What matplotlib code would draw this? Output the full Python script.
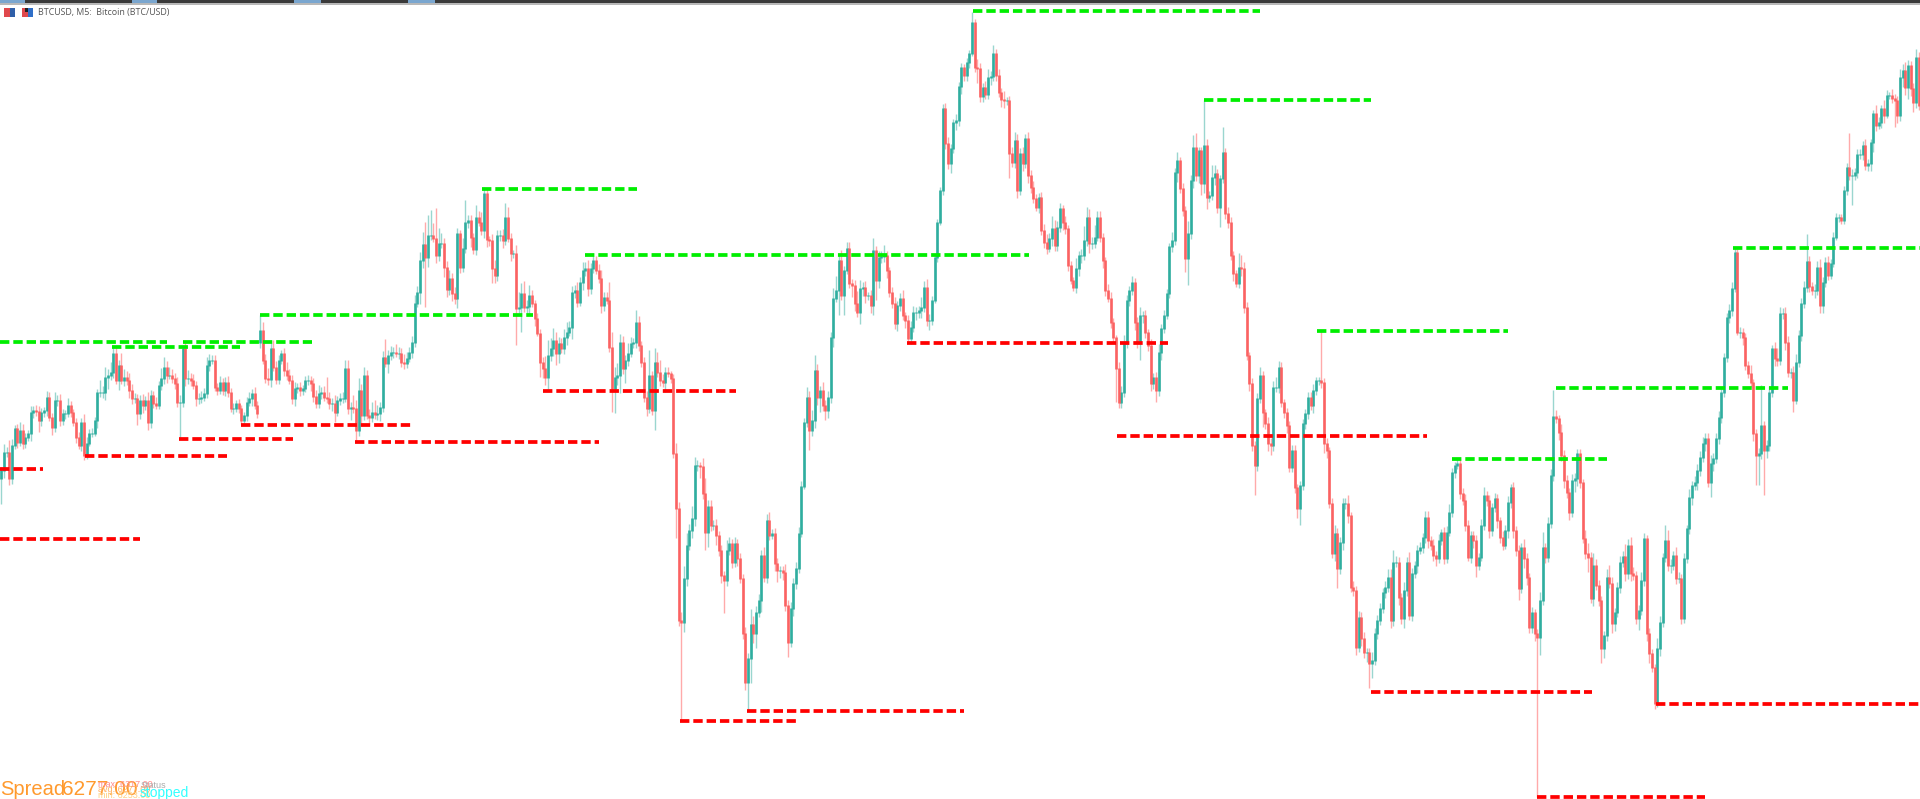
import numpy as np
import matplotlib
matplotlib.use('Agg')
import matplotlib.pyplot as plt
from matplotlib.patches import Rectangle

# No price axis in the picture: values are read as chart heights, top = 0
first_open = 478
gap_opens = {97: 342}

closes = [
    470, 452, 452, 478, 445, 428, 442, 430, 443, 437, 433, 412, 410, 411, 420, 412, 410, 397, 417, 427,
    400, 400, 420, 413, 413, 405, 412, 422, 437, 445, 422, 455, 443, 433, 433, 420, 392, 392, 392, 377,
    375, 372, 353, 380, 365, 380, 377, 380, 390, 398, 398, 413, 400, 405, 400, 422, 395, 403, 405, 385,
    378, 367, 375, 375, 378, 383, 402, 402, 348, 378, 378, 380, 385, 398, 398, 397, 393, 365, 360, 360,
    387, 390, 382, 390, 382, 392, 408, 408, 403, 408, 420, 415, 402, 398, 393, 405, 413, 330, 360, 378,
    379, 348, 367, 379, 360, 353, 370, 375, 380, 398, 388, 387, 390, 388, 380, 380, 383, 396, 403, 393,
    392, 397, 398, 403, 403, 412, 400, 398, 398, 368, 408, 407, 408, 430, 390, 415, 375, 415, 417, 412,
    414, 413, 407, 357, 363, 355, 352, 352, 353, 353, 362, 363, 358, 352, 342, 303, 292, 260, 244, 257,
    235, 235, 238, 255, 243, 243, 267, 289, 278, 293, 298, 233, 267, 248, 222, 220, 237, 249, 217, 222,
    230, 193, 239, 240, 268, 275, 235, 235, 240, 217, 238, 253, 253, 308, 307, 293, 307, 306, 295, 303,
    318, 333, 362, 368, 377, 355, 348, 340, 353, 343, 348, 337, 332, 327, 292, 290, 302, 282, 270, 268,
    288, 268, 260, 270, 278, 305, 297, 300, 347, 388, 377, 375, 342, 368, 360, 353, 343, 342, 322, 345,
    362, 397, 408, 375, 410, 362, 372, 380, 382, 372, 373, 378, 453, 508, 620, 622, 578, 545, 530, 518,
    465, 465, 466, 493, 532, 506, 525, 525, 535, 550, 575, 580, 550, 543, 562, 543, 558, 578, 633, 682,
    658, 624, 633, 612, 600, 555, 577, 520, 535, 533, 563, 570, 570, 572, 605, 642, 608, 583, 568, 533,
    486, 422, 397, 430, 420, 370, 397, 390, 405, 410, 397, 337, 298, 290, 260, 295, 270, 248, 283, 285,
    303, 312, 288, 287, 295, 295, 305, 250, 280, 257, 256, 255, 270, 292, 303, 323, 305, 298, 315, 320,
    338, 327, 312, 312, 310, 307, 287, 320, 320, 300, 257, 222, 190, 108, 143, 163, 148, 122, 120, 86,
    67, 75, 62, 53, 22, 67, 68, 96, 87, 94, 77, 76, 53, 75, 92, 99, 100, 100, 153, 162,
    140, 190, 153, 163, 138, 175, 187, 198, 207, 197, 230, 242, 248, 238, 228, 245, 227, 208, 222, 228,
    265, 280, 287, 268, 255, 255, 240, 217, 243, 243, 237, 217, 237, 260, 290, 298, 322, 337, 368, 402,
    392, 343, 300, 290, 282, 322, 342, 315, 315, 332, 345, 383, 377, 390, 352, 328, 315, 293, 246, 240,
    172, 160, 188, 210, 258, 233, 180, 147, 175, 150, 183, 145, 197, 195, 177, 173, 207, 178, 152, 213,
    222, 255, 273, 283, 267, 268, 307, 355, 383, 445, 465, 398, 375, 412, 423, 443, 445, 387, 387, 367,
    402, 412, 425, 467, 450, 487, 508, 485, 423, 413, 397, 405, 390, 380, 380, 382, 443, 450, 503, 553,
    533, 568, 542, 503, 503, 515, 587, 590, 647, 617, 638, 652, 652, 663, 660, 633, 620, 608, 592, 587,
    577, 620, 562, 562, 597, 618, 590, 562, 615, 573, 565, 550, 547, 537, 517, 540, 545, 555, 558, 540,
    532, 558, 532, 512, 472, 465, 463, 493, 500, 525, 557, 535, 540, 565, 557, 525, 495, 500, 530, 507,
    498, 520, 537, 545, 530, 502, 487, 530, 550, 588, 547, 558, 577, 627, 612, 633, 637, 600, 547, 557,
    523, 475, 416, 418, 432, 455, 480, 492, 512, 480, 478, 453, 482, 538, 553, 557, 598, 565, 585, 600,
    648, 635, 577, 583, 623, 612, 587, 562, 556, 573, 545, 573, 575, 618, 610, 580, 538, 633, 653, 667,
    703, 648, 622, 557, 540, 565, 565, 555, 578, 578, 618, 558, 528, 497, 485, 482, 470, 457, 443, 438,
    482, 463, 458, 438, 417, 392, 357, 317, 310, 288, 252, 332, 332, 337, 365, 373, 382, 433, 455, 453,
    425, 450, 445, 392, 348, 358, 360, 313, 313, 342, 372, 372, 400, 362, 335, 303, 287, 261, 286, 290,
    290, 267, 305, 282, 262, 275, 263, 237, 217, 217, 220, 190, 167, 175, 175, 172, 154, 154, 145, 165,
    163, 142, 113, 125, 122, 108, 115, 95, 95, 98, 100, 115, 77, 70, 87, 65, 88, 102, 57, 105,
]

wick_up = [
    3, 8, 5, 12, 6, 3, 4, 8, 6, 4, 3, 6, 4, 5, 5, 4, 3, 6, 5, 4,
    8, 5, 6, 4, 3, 7, 4, 3, 4, 5, 4, 8, 6, 4, 5, 3, 3, 12, 6, 10,
    6, 10, 8, 6, 5, 12, 8, 6, 7, 6, 5, 4, 5, 6, 4, 8, 5, 4, 6, 4,
    10, 10, 6, 8, 6, 5, 6, 7, 3, 6, 8, 5, 6, 4, 5, 6, 5, 8, 6, 5,
    5, 4, 6, 4, 5, 6, 4, 5, 3, 4, 3, 3, 5, 6, 4, 6, 4, 15, 8, 6,
    10, 5, 8, 6, 5, 3, 5, 8, 6, 5, 6, 4, 5, 3, 4, 5, 4, 5, 6, 8,
    5, 6, 20, 6, 5, 8, 4, 5, 6, 8, 8, 5, 12, 8, 12, 6, 8, 5, 6, 10,
    12, 8, 5, 6, 18, 5, 6, 5, 8, 6, 5, 8, 6, 5, 6, 8, 6, 8, 12, 22,
    20, 25, 12, 30, 15, 10, 5, 6, 8, 5, 6, 5, 3, 10, 22, 5, 5, 4, 12, 6,
    10, 6, 4, 3, 6, 8, 5, 5, 6, 14, 10, 5, 3, 8, 15, 10, 12, 6, 10, 5,
    3, 5, 4, 5, 12, 15, 10, 12, 8, 6, 5, 8, 10, 6, 6, 5, 8, 5, 8, 6,
    8, 5, 4, 4, 6, 8, 5, 5, 18, 15, 10, 12, 8, 6, 5, 10, 6, 4, 12, 6,
    4, 5, 6, 25, 4, 14, 10, 12, 6, 5, 5, 2, 4, 10, 6, 8, 12, 12, 6, 12,
    8, 5, 3, 8, 15, 6, 6, 5, 6, 4, 5, 4, 10, 6, 4, 6, 4, 5, 4, 6,
    5, 15, 8, 6, 6, 5, 8, 6, 8, 4, 5, 5, 4, 4, 8, 5, 6, 5, 6, 6,
    5, 4, 10, 6, 10, 15, 6, 4, 8, 5, 6, 5, 10, 14, 6, 10, 4, 6, 6, 4,
    5, 12, 8, 5, 6, 3, 5, 12, 4, 6, 5, 10, 4, 3, 5, 6, 4, 5, 8, 3,
    5, 6, 6, 5, 4, 10, 6, 8, 6, 4, 3, 3, 3, 4, 5, 6, 4, 3, 6, 4,
    4, 3, 4, 3, 10, 3, 8, 5, 4, 6, 8, 5, 8, 4, 6, 4, 8, 3, 4, 6,
    8, 6, 5, 6, 4, 6, 5, 6, 4, 4, 5, 6, 8, 5, 12, 8, 6, 5, 3, 6,
    3, 4, 3, 10, 4, 6, 14, 10, 8, 6, 12, 6, 6, 4, 3, 6, 6, 4, 2, 6,
    6, 8, 5, 4, 6, 4, 5, 8, 4, 5, 3, 6, 4, 5, 8, 4, 5, 4, 3, 8,
    4, 8, 3, 5, 4, 12, 5, 12, 14, 3, 3, 45, 6, 4, 12, 8, 4, 3, 25, 4,
    6, 5, 4, 3, 14, 12, 6, 5, 3, 5, 4, 5, 8, 4, 3, 6, 5, 6, 10, 6,
    5, 3, 4, 4, 5, 5, 3, 4, 4, 4, 5, 5, 6, 3, 3, 49, 4, 5, 3, 5,
    8, 5, 5, 5, 5, 8, 3, 6, 4, 6, 5, 6, 4, 4, 8, 5, 5, 5, 4, 6,
    8, 8, 12, 6, 5, 4, 8, 5, 10, 5, 4, 5, 5, 4, 6, 6, 4, 6, 4, 6,
    3, 5, 6, 8, 4, 3, 4, 4, 5, 6, 5, 4, 4, 5, 4, 6, 8, 4, 5, 4,
    5, 4, 3, 6, 5, 6, 3, 5, 4, 5, 4, 8, 5, 4, 5, 3, 4, 8, 15, 4,
    6, 6, 26, 6, 3, 8, 5, 5, 4, 6, 5, 4, 4, 3, 8, 10, 5, 12, 6, 5,
    4, 4, 8, 12, 6, 4, 5, 6, 5, 12, 6, 8, 6, 4, 5, 8, 5, 3, 5, 4,
    3, 10, 6, 4, 15, 10, 6, 4, 8, 6, 4, 5, 3, 8, 4, 6, 6, 6, 6, 5,
    5, 8, 5, 5, 6, 5, 4, 4, 6, 6, 4, 3, 5, 4, 4, 4, 8, 3, 4, 5,
    40, 4, 5, 6, 3, 6, 10, 6, 5, 6, 6, 4, 6, 8, 5, 5, 6, 27, 5, 4,
    6, 6, 8, 5, 5, 6, 4, 5, 4, 3, 3, 4, 4, 34, 6, 4, 5, 5, 4, 6,
    4, 3, 3, 8, 5, 3, 8, 5, 3, 6, 4, 4, 8, 6, 8, 5, 4, 5, 8, 5,
]

wick_down = [
    26, 8, 5, 7, 6, 4, 6, 4, 6, 5, 4, 8, 6, 5, 12, 6, 5, 6, 4, 8,
    5, 6, 6, 5, 6, 4, 5, 4, 6, 4, 6, 5, 4, 3, 4, 3, 8, 5, 6, 8,
    12, 5, 6, 4, 10, 4, 6, 5, 8, 6, 5, 12, 6, 8, 5, 8, 6, 5, 4, 4,
    5, 6, 8, 4, 5, 6, 5, 36, 5, 8, 6, 6, 4, 8, 6, 5, 4, 5, 6, 4,
    4, 5, 4, 5, 6, 5, 4, 6, 4, 5, 4, 5, 6, 4, 8, 4, 5, 6, 4, 5,
    6, 8, 4, 5, 5, 4, 6, 5, 4, 6, 8, 5, 6, 5, 4, 5, 8, 6, 5, 5,
    6, 4, 5, 6, 8, 10, 4, 5, 5, 4, 6, 12, 5, 12, 6, 8, 5, 4, 6, 5,
    5, 6, 8, 5, 4, 10, 5, 6, 4, 6, 5, 6, 5, 4, 6, 5, 4, 12, 8, 50,
    10, 5, 4, 8, 6, 5, 10, 8, 6, 8, 6, 10, 6, 5, 5, 6, 10, 5, 6, 4,
    5, 8, 8, 6, 15, 8, 6, 6, 8, 5, 4, 8, 5, 37, 5, 25, 5, 6, 8, 4,
    8, 3, 15, 10, 8, 12, 6, 8, 12, 10, 5, 6, 8, 4, 12, 6, 5, 4, 8, 6,
    8, 6, 5, 4, 5, 8, 6, 4, 5, 24, 25, 8, 18, 6, 15, 6, 4, 5, 6, 6,
    5, 5, 8, 5, 5, 20, 5, 6, 5, 10, 4, 5, 5, 30, 6, 98, 10, 8, 5, 8,
    8, 6, 12, 6, 18, 15, 6, 5, 10, 6, 8, 33, 6, 5, 6, 5, 8, 5, 6, 8,
    29, 25, 10, 15, 5, 12, 5, 6, 5, 4, 8, 12, 8, 8, 6, 15, 5, 8, 6, 5,
    4, 3, 5, 20, 6, 8, 8, 15, 6, 10, 8, 6, 10, 4, 25, 5, 20, 4, 5, 12,
    8, 5, 12, 8, 8, 5, 8, 10, 20, 8, 6, 6, 8, 5, 5, 6, 8, 6, 5, 8,
    5, 6, 5, 8, 6, 8, 5, 6, 10, 5, 3, 5, 3, 5, 6, 6, 10, 5, 8, 6,
    8, 6, 6, 6, 3, 5, 15, 6, 6, 5, 5, 8, 5, 6, 5, 8, 8, 5, 25, 5,
    6, 8, 5, 8, 5, 8, 6, 5, 4, 6, 5, 6, 6, 4, 8, 6, 6, 5, 8, 6,
    6, 4, 4, 6, 8, 8, 5, 6, 10, 6, 5, 4, 5, 8, 6, 4, 6, 6, 34, 6,
    6, 5, 5, 6, 5, 8, 6, 18, 8, 6, 6, 8, 6, 12, 6, 8, 5, 4, 5, 6,
    5, 10, 5, 6, 14, 27, 6, 8, 6, 8, 12, 10, 12, 5, 5, 8, 6, 20, 5, 6,
    6, 5, 8, 4, 5, 8, 6, 5, 8, 6, 30, 6, 5, 15, 6, 8, 10, 6, 5, 6,
    5, 6, 8, 5, 5, 6, 10, 17, 5, 6, 6, 5, 8, 5, 5, 6, 10, 8, 5, 5,
    8, 20, 6, 8, 6, 8, 5, 6, 8, 5, 8, 6, 10, 25, 15, 5, 6, 5, 5, 6,
    5, 8, 6, 5, 8, 6, 10, 6, 5, 6, 5, 8, 4, 6, 6, 8, 5, 6, 8, 5,
    5, 6, 5, 4, 5, 6, 4, 6, 5, 6, 4, 6, 8, 12, 5, 4, 5, 6, 8, 6,
    5, 8, 6, 5, 4, 8, 6, 8, 6, 12, 5, 10, 8, 6, 6, 8, 160, 18, 5, 6,
    5, 5, 6, 5, 8, 6, 8, 6, 8, 5, 12, 8, 6, 5, 6, 15, 5, 8, 5, 6,
    15, 10, 6, 5, 10, 8, 5, 6, 5, 8, 6, 8, 5, 6, 12, 5, 6, 8, 10, 5,
    6, 4, 8, 5, 5, 6, 8, 5, 6, 5, 6, 5, 5, 6, 8, 5, 8, 6, 5, 8,
    5, 15, 8, 5, 6, 6, 5, 5, 6, 6, 4, 3, 6, 8, 5, 5, 5, 8, 30, 30,
    6, 45, 8, 6, 5, 8, 6, 5, 6, 8, 5, 6, 12, 4, 5, 6, 5, 5, 6, 5,
    8, 5, 8, 8, 5, 5, 4, 4, 3, 5, 4, 4, 5, 5, 30, 5, 6, 5, 6, 5,
    6, 8, 10, 6, 4, 6, 8, 3, 4, 5, 27, 8, 6, 10, 8, 12, 8, 10, 6, 5,
]

# Swing levels: first candle, last candle, level
high_start = [0, 42, 68.6, 97.5, 180.8, 219.4, 365, 451.5, 494, 544.5, 583.5, 650]
high_end = [62.6, 90, 117, 200, 239, 386, 472.5, 514, 565.5, 602.6, 670.5, 720]
high_level = [342, 347, 342, 314.5, 189, 255, 11, 100, 331, 459, 388, 248]

low_start = [0, 0, 32, 67, 90.4, 133, 203.6, 340, 255, 280, 419, 514, 576.4, 621]
low_end = [16, 52.5, 85, 110, 154, 224.6, 276, 438, 298.5, 361.5, 535, 597, 639.4, 720]
low_level = [469, 539, 456, 439, 425, 442, 391, 343, 721, 711, 436, 692, 797, 704]

GREEN = '#2fae9f'
RED = '#fb6262'
GREEN_WICK = '#9ad6cf'
RED_WICK = '#ffaaaa'

closes = np.array(closes, dtype=float)
opens = np.r_[first_open, closes[:-1]]
for i, v in gap_opens.items():
    opens[i] = v
assert len(closes) == 720 and len(wick_up) == 720 and len(wick_down) == 720
highs = np.minimum(opens, closes) - np.array(wick_up)
lows = np.maximum(opens, closes) + np.array(wick_down)
idx = np.arange(len(closes))
up = closes <= opens

fig = plt.figure(figsize=(19.2, 7.99), dpi=100, facecolor='white')
ax = fig.add_axes([0, 0, 1, 1])
ax.set_xlim(-0.5, 719.5)
ax.set_ylim(799, 0)
ax.axis('off')

ax.vlines(idx[up], highs[up], lows[up], color=GREEN_WICK, lw=1.0, zorder=1)
ax.vlines(idx[~up], highs[~up], lows[~up], color=RED_WICK, lw=1.0, zorder=1)
ax.vlines(idx[up], closes[up], opens[up] + 1, color=GREEN, lw=1.9, zorder=2)
ax.vlines(idx[~up], opens[~up], closes[~up] + 1, color=RED, lw=1.9, zorder=2)

# levels were read as pixel / candle width, the axis starts half a candle early
dash = (0, (2.5, 1.05))
ax.hlines(high_level, np.array(high_start) - 0.5, np.array(high_end) - 0.5,
          color='#00ee00', lw=2.7, linestyle=dash, zorder=3)
ax.hlines(low_level, np.array(low_start) - 0.5, np.array(low_end) - 0.5,
          color='#ff0000', lw=2.7, linestyle=dash, zorder=3)

# Terminal window furniture, in pixels
over = fig.add_axes([0, 0, 1, 1])
over.set_xlim(0, 1920)
over.set_ylim(799, 0)
over.axis('off')
over.patch.set_alpha(0)

over.add_patch(Rectangle((0, 0), 1920, 3, color='#3a3a3a', lw=0))
over.add_patch(Rectangle((0, 3), 1920, 1.5, color='#b8b8b8', lw=0))
for x0, x1 in [(0, 25), (132, 157), (294, 321), (408, 435)]:
    over.add_patch(Rectangle((x0, 0), x1 - x0, 3, color='#7aa6cf', lw=0))

over.add_patch(Rectangle((4, 8), 11, 9, color='#e0484c', lw=0))
over.add_patch(Rectangle((10, 8), 5, 9, color='#2f5fa8', lw=0))
over.add_patch(Rectangle((22, 8), 11, 9, color='#e0484c', lw=0))
over.add_patch(Rectangle((28, 8), 5, 9, color='#2f6fc8', lw=0))
over.add_patch(Rectangle((25, 8), 3, 4, color='#222222', lw=0))

over.text(38, 13, 'BTCUSD, M5:  Bitcoin (BTC/USD)', family='Open Sans', fontsize=6.4,
          color='#555555', va='center', ha='left')

orange = '#ff9a2e'
over.text(0, 795, 'Spread', family='Liberation Sans', fontsize=14.5, color=orange, va='baseline')
over.text(62, 795, '6277.00', family='Liberation Sans', fontsize=15, color=orange, va='baseline')
over.text(98, 787, 'max: 6317.00', family='Liberation Sans', fontsize=6.5, color='#ff8a8a', va='baseline')
over.text(98, 792, 'avg: 6277.00', family='Liberation Sans', fontsize=6.5, color='#ffb060', va='baseline')
over.text(98, 798, 'min: 6253.00', family='Liberation Sans', fontsize=6.5, color='#ffd080', va='baseline')
over.text(141, 788, 'Status', family='Liberation Sans', fontsize=6.5, color='#aaaaaa', va='baseline')
over.text(140, 797, 'stopped', family='Liberation Sans', fontsize=10, color='#33ffff', va='baseline')

fig.savefig('out.png', dpi=100)
